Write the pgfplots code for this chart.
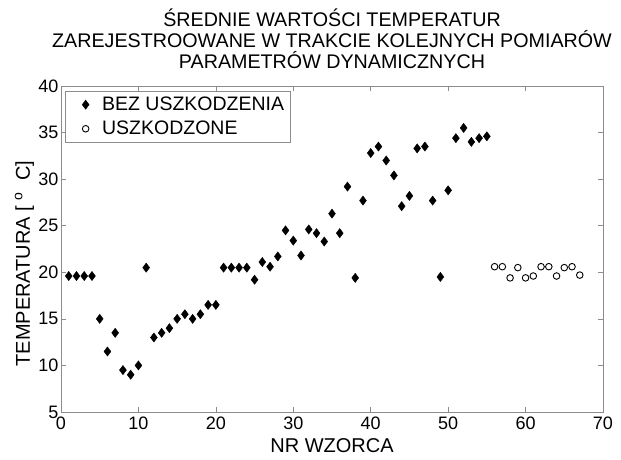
\documentclass[border=0pt]{standalone}
\usepackage{fontspec}
\setmainfont{Liberation Sans}
\usepackage{pgfplots}
\pgfplotsset{compat=1.18}
\definecolor{axgray}{gray}{0.55}
\pgfplotstableread{
x y
1 19.6
2 19.6
3 19.6
4 19.6
5 15.0
6 11.5
7 13.5
8 9.5
9 9.0
10 10.0
11 20.5
12 13.0
13 13.5
14 14.0
15 15.0
16 15.5
17 15.0
18 15.5
19 16.5
20 16.5
21 20.5
22 20.5
23 20.5
24 20.5
25 19.2
26 21.1
27 20.6
28 21.7
29 24.5
30 23.4
31 21.8
32 24.6
33 24.2
34 23.3
35 26.3
36 24.2
37 29.2
38 19.4
39 27.7
40 32.8
41 33.5
42 32.0
43 30.4
44 27.1
45 28.2
46 33.3
47 33.5
48 27.7
49 19.5
50 28.8
51 34.4
52 35.5
53 34.0
54 34.4
55 34.6
}\good
\pgfplotstableread{
x y
56 20.6
57 20.6
58 19.4
59 20.5
60 19.4
61 19.6
62 20.6
63 20.6
64 19.6
65 20.5
66 20.6
67 19.7
}\bad
\begin{document}
\begin{tikzpicture}
\useasboundingbox (-61pt,-47pt) rectangle (560pt,412pt);
\begin{axis}[
  at={(0,0)}, anchor=south west,
  scale only axis, width=542pt, height=326pt,
  xmin=0, xmax=70, ymin=5, ymax=40,
  xtick={0,10,...,70}, ytick={5,10,...,40},
  tick align=inside, major tick length=5pt,
  xtick pos=both, ytick pos=both,
  axis line style={axgray}, tick style={axgray, line width=0.6pt},
  /pgf/number format/assume math mode=true,
  tick label style={font=\fontsize{18}{20}\selectfont, black},
  xticklabel style={yshift=-1pt},
  yticklabel style={xshift=1pt},
  title={ŚREDNIE WARTOŚCI TEMPERATUR\\ZAREJESTROOWANE W TRAKCIE KOLEJNYCH POMIARÓW\\PARAMETRÓW DYNAMICZNYCH},
  title style={align=center, font=\fontsize{19.7}{21}\selectfont, at={(axis description cs:0.5,1)}, anchor=south, inner sep=0pt, yshift=11.5pt},
  xlabel={NR WZORCA},
  xlabel style={font=\fontsize{20}{24}\selectfont, at={(axis description cs:0.5,-0.1248)}, anchor=base},
  ylabel={TEMPERATURA [~\textsuperscript{o}~ C]},
  ylabel style={font=\fontsize{20}{24}\selectfont, at={(axis description cs:-0.0572,0.139)}, anchor=base west, inner sep=0pt},
  legend style={at={(axis description cs:0.0074,0.985)}, anchor=north west, draw=axgray,
    font=\fontsize{19.5}{22}\selectfont, inner xsep=4pt, inner ysep=4pt, row sep=5pt,
    nodes={inner xsep=2pt}},
  legend image code/.code={\path (0pt,0pt) (30pt,0pt); \draw[#1] plot coordinates {(16pt,0pt)};},
  legend cell align=left,
]
\addplot[only marks, mark=diamond*, mark size=4.6pt, black] table[x=x,y=y]{\good};
\addlegendentry{BEZ USZKODZENIA}
\addplot[only marks, mark=o, mark size=3.3pt, black, line width=0.9pt] table[x=x,y=y]{\bad};
\addlegendentry{USZKODZONE}
\end{axis}
\end{tikzpicture}
\end{document}
